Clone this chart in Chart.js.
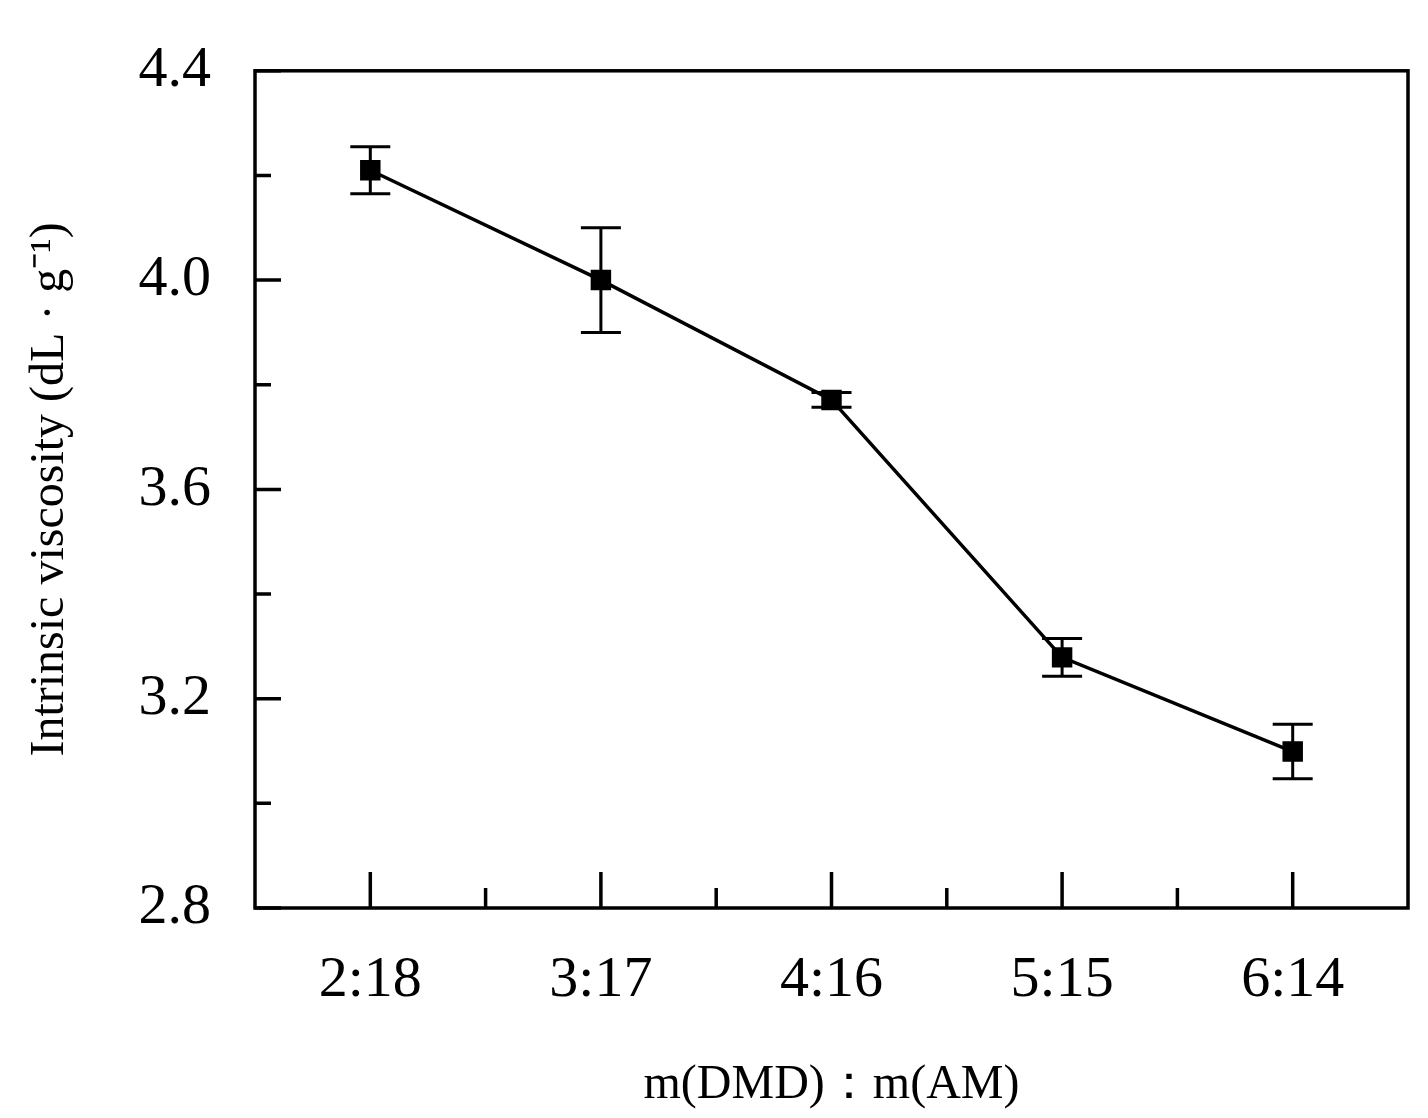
<!DOCTYPE html>
<html><head><meta charset="utf-8">
<script src="https://cdn.jsdelivr.net/npm/chart.js@4"></script>
<style>html,body{margin:0;padding:0;background:#fff}#w{width:1428px;height:1118px}</style>
</head><body><div id="w"><canvas id="c"></canvas></div>
<script>
const categories = ['2:18','3:17','4:16','5:15','6:14'];
const values = [4.21, 4.00, 3.771, 3.279, 3.099];
const errors = [0.045, 0.10, 0.014, 0.036, 0.052];
const yMin = 2.8, yMax = 4.4;

const ticksPlugin = {
  id: 'frame',
  afterDatasetsDraw(chart) {
    const {ctx, chartArea: a, scales: {x, y}} = chart;
    ctx.save();
    ctx.strokeStyle = '#000';
    ctx.lineWidth = 3;
    values.forEach((v, i) => {
      const px = x.getPixelForValue(i);
      const hi = y.getPixelForValue(v + errors[i]);
      const lo = y.getPixelForValue(v - errors[i]);
      ctx.beginPath();
      ctx.moveTo(px, hi); ctx.lineTo(px, lo);
      ctx.moveTo(px - 20, hi); ctx.lineTo(px + 20, hi);
      ctx.moveTo(px - 20, lo); ctx.lineTo(px + 20, lo);
      ctx.stroke();
    });
    ctx.lineWidth = 3.5;
    ctx.strokeRect(a.left, a.top, a.right - a.left, a.bottom - a.top);
    ctx.beginPath();
    for (let i = 0; i < categories.length; i++) {
      const px = x.getPixelForValue(i);
      ctx.moveTo(px, a.bottom); ctx.lineTo(px, a.bottom - 36);
      if (i < categories.length - 1) {
        const mx = (px + x.getPixelForValue(i + 1)) / 2;
        ctx.moveTo(mx, a.bottom); ctx.lineTo(mx, a.bottom - 20);
      }
    }
    for (let k = 0; k <= 8; k++) {
      const v = yMin + k * 0.2;
      const py = y.getPixelForValue(v);
      ctx.moveTo(a.left, py); ctx.lineTo(a.left + (k % 2 === 0 ? 26 : 16), py);
    }
    ctx.stroke();
    ctx.restore();
  }
};

new Chart(document.getElementById('c'), {
  type: 'line',
  data: { labels: categories, datasets: [{
    data: values, borderColor: '#000', backgroundColor: '#000', borderWidth: 3.5,
    pointStyle: 'rect', pointRadius: 12, pointHoverRadius: 12, tension: 0
  }]},
  options: {
    responsive: true, maintainAspectRatio: false, animation: false,
    layout: { padding: { top: 8, right: 20, left: 0, bottom: 0 } },
    plugins: { legend: { display: false }, tooltip: { enabled: false } },
    scales: {
      x: {
        offset: true,
        grid: { display: false }, border: { display: false },
        ticks: { color: '#000', padding: 30, font: { family: 'Liberation Serif', size: 58 }, maxRotation: 0 },
        title: { display: true, text: 'm(DMD)：m(AM)', color: '#000', padding: { top: 4 },
                 font: { family: 'Liberation Serif', size: 48 } },
        afterFit(s) { s.height = 210; }
      },
      y: {
        min: yMin, max: yMax,
        grid: { display: false }, border: { display: false },
        ticks: { stepSize: 0.2, color: '#000', padding: 36, autoSkip: false,
                 font: { family: 'Liberation Serif', size: 58 },
                 callback: v => (Math.round(v * 10) % 4 === 0 ? v.toFixed(1) : '') },
        title: { display: true, text: 'Intrinsic viscosity (dL · g⁻¹)', color: '#000', padding: { top: 22, bottom: 0 },
                 font: { family: 'Liberation Serif', size: 48 } },
        afterFit(s) { s.width = 255; }
      }
    }
  },
  plugins: [ticksPlugin]
});
</script></body></html>
